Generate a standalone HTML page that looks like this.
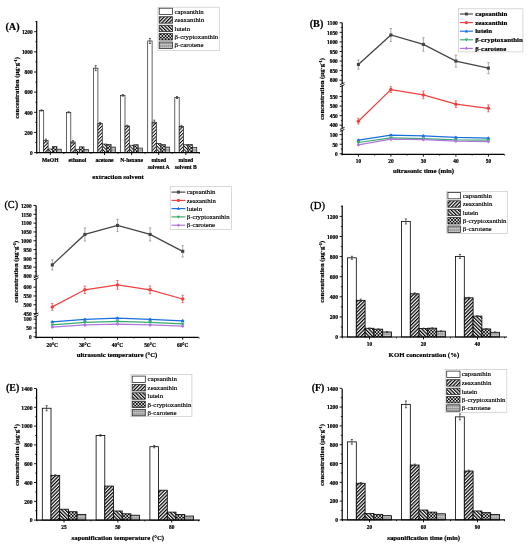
<!DOCTYPE html>
<html><head><meta charset="utf-8"><title>Figure</title>
<style>
html,body{margin:0;padding:0;background:#fff;width:531px;height:550px;overflow:hidden}
svg{display:block;will-change:transform}
text{font-family:"Liberation Serif",serif;fill:#000;stroke:#000;stroke-width:0.16px}
text[font-weight=bold]{stroke-width:0.2px}
</style></head><body>
<svg width="531" height="550" viewBox="0 0 531 550">
<defs>
<pattern id="pz" width="2.5" height="2.5" patternUnits="userSpaceOnUse" patternTransform="rotate(45)"><rect width="2.5" height="2.5" fill="#fff"/><rect width="1.25" height="2.5" fill="#000"/></pattern>
<pattern id="pl" width="2.5" height="2.5" patternUnits="userSpaceOnUse" patternTransform="rotate(-45)"><rect width="2.5" height="2.5" fill="#fff"/><rect width="1.25" height="2.5" fill="#000"/></pattern>
<pattern id="pzA" width="2.4" height="2.4" patternUnits="userSpaceOnUse" patternTransform="rotate(45)"><rect width="2.4" height="2.4" fill="#fff"/><rect width="0.95" height="2.4" fill="#000"/></pattern>
<pattern id="plA" width="2.4" height="2.4" patternUnits="userSpaceOnUse" patternTransform="rotate(-45)"><rect width="2.4" height="2.4" fill="#fff"/><rect width="0.95" height="2.4" fill="#000"/></pattern>
<pattern id="pc" width="3.2" height="3.2" patternUnits="userSpaceOnUse"><rect width="3.2" height="3.2" fill="#000"/><rect x="0.05" y="0.05" width="1.5" height="1.5" fill="#fff"/><rect x="1.65" y="1.65" width="1.5" height="1.5" fill="#fff"/></pattern>
<pattern id="pb" width="2" height="1.6" patternUnits="userSpaceOnUse"><rect width="2" height="1.6" fill="#d4d4d4"/><rect width="2" height="0.6" fill="#7a7a7a"/><rect width="0.5" height="1.6" fill="#9a9a9a"/></pattern>
</defs>
<rect width="531" height="550" fill="#fff"/>

<text x="5.4" y="30" font-size="10.2" font-weight="bold" text-anchor="start">(A)</text>
<line x1="36.7" y1="21.1" x2="36.7" y2="152.6" stroke="#000" stroke-width="1.2"/>
<line x1="34.1" y1="152.6" x2="36.7" y2="152.6" stroke="#000" stroke-width="0.9"/>
<text x="32.7" y="154.89" font-size="5.4" font-weight="bold" text-anchor="end">0</text>
<line x1="34.1" y1="132.45" x2="36.7" y2="132.45" stroke="#000" stroke-width="0.9"/>
<text x="32.7" y="134.74" font-size="5.4" font-weight="bold" text-anchor="end">200</text>
<line x1="34.1" y1="112.3" x2="36.7" y2="112.3" stroke="#000" stroke-width="0.9"/>
<text x="32.7" y="114.59" font-size="5.4" font-weight="bold" text-anchor="end">400</text>
<line x1="34.1" y1="92.15" x2="36.7" y2="92.15" stroke="#000" stroke-width="0.9"/>
<text x="32.7" y="94.44" font-size="5.4" font-weight="bold" text-anchor="end">600</text>
<line x1="34.1" y1="72" x2="36.7" y2="72" stroke="#000" stroke-width="0.9"/>
<text x="32.7" y="74.29" font-size="5.4" font-weight="bold" text-anchor="end">800</text>
<line x1="34.1" y1="51.85" x2="36.7" y2="51.85" stroke="#000" stroke-width="0.9"/>
<text x="32.7" y="54.14" font-size="5.4" font-weight="bold" text-anchor="end">1000</text>
<line x1="34.1" y1="31.7" x2="36.7" y2="31.7" stroke="#000" stroke-width="0.9"/>
<text x="32.7" y="33.99" font-size="5.4" font-weight="bold" text-anchor="end">1200</text>
<line x1="35.3" y1="142.53" x2="36.7" y2="142.53" stroke="#000" stroke-width="0.8"/>
<line x1="35.3" y1="122.38" x2="36.7" y2="122.38" stroke="#000" stroke-width="0.8"/>
<line x1="35.3" y1="102.22" x2="36.7" y2="102.22" stroke="#000" stroke-width="0.8"/>
<line x1="35.3" y1="82.08" x2="36.7" y2="82.08" stroke="#000" stroke-width="0.8"/>
<line x1="35.3" y1="61.92" x2="36.7" y2="61.92" stroke="#000" stroke-width="0.8"/>
<line x1="35.3" y1="41.78" x2="36.7" y2="41.78" stroke="#000" stroke-width="0.8"/>
<line x1="35.3" y1="21.62" x2="36.7" y2="21.62" stroke="#000" stroke-width="0.8"/>
<rect x="39.3" y="110.49" width="4.4" height="42.11" fill="#fff" stroke="#222" stroke-width="0.7"/>
<line x1="41.5" y1="109.88" x2="41.5" y2="111.09" stroke="#333" stroke-width="0.7"/>
<line x1="40.5" y1="109.88" x2="42.5" y2="109.88" stroke="#333" stroke-width="0.8"/>
<line x1="40.5" y1="111.09" x2="42.5" y2="111.09" stroke="#333" stroke-width="0.8"/>
<rect x="43.7" y="140.51" width="4.4" height="12.09" fill="url(#pzA)" stroke="#222" stroke-width="0.7"/>
<line x1="45.9" y1="139.1" x2="45.9" y2="141.92" stroke="#333" stroke-width="0.7"/>
<line x1="44.9" y1="139.1" x2="46.9" y2="139.1" stroke="#333" stroke-width="0.8"/>
<line x1="44.9" y1="141.92" x2="46.9" y2="141.92" stroke="#333" stroke-width="0.8"/>
<rect x="48.1" y="148.97" width="4.4" height="3.63" fill="url(#plA)" stroke="#222" stroke-width="0.7"/>
<rect x="52.5" y="146.56" width="4.4" height="6.04" fill="url(#pc)" stroke="#222" stroke-width="0.7"/>
<rect x="56.9" y="149.17" width="4.4" height="3.43" fill="url(#pb)" stroke="#222" stroke-width="0.7"/>
<rect x="66.4" y="112.3" width="4.4" height="40.3" fill="#fff" stroke="#222" stroke-width="0.7"/>
<line x1="68.6" y1="111.8" x2="68.6" y2="112.8" stroke="#333" stroke-width="0.7"/>
<line x1="67.6" y1="111.8" x2="69.6" y2="111.8" stroke="#333" stroke-width="0.8"/>
<line x1="67.6" y1="112.8" x2="69.6" y2="112.8" stroke="#333" stroke-width="0.8"/>
<rect x="70.8" y="141.92" width="4.4" height="10.68" fill="url(#pzA)" stroke="#222" stroke-width="0.7"/>
<line x1="73" y1="140.71" x2="73" y2="143.13" stroke="#333" stroke-width="0.7"/>
<line x1="72" y1="140.71" x2="74" y2="140.71" stroke="#333" stroke-width="0.8"/>
<line x1="72" y1="143.13" x2="74" y2="143.13" stroke="#333" stroke-width="0.8"/>
<rect x="75.2" y="149.28" width="4.4" height="3.32" fill="url(#plA)" stroke="#222" stroke-width="0.7"/>
<rect x="79.6" y="146.86" width="4.4" height="5.74" fill="url(#pc)" stroke="#222" stroke-width="0.7"/>
<rect x="84" y="149.38" width="4.4" height="3.22" fill="url(#pb)" stroke="#222" stroke-width="0.7"/>
<rect x="93.5" y="68.17" width="4.4" height="84.43" fill="#fff" stroke="#222" stroke-width="0.7"/>
<line x1="95.7" y1="65.65" x2="95.7" y2="70.69" stroke="#333" stroke-width="0.7"/>
<line x1="94.7" y1="65.65" x2="96.7" y2="65.65" stroke="#333" stroke-width="0.8"/>
<line x1="94.7" y1="70.69" x2="96.7" y2="70.69" stroke="#333" stroke-width="0.8"/>
<rect x="97.9" y="123.38" width="4.4" height="29.22" fill="url(#pzA)" stroke="#222" stroke-width="0.7"/>
<line x1="100.1" y1="122.38" x2="100.1" y2="124.39" stroke="#333" stroke-width="0.7"/>
<line x1="99.1" y1="122.38" x2="101.1" y2="122.38" stroke="#333" stroke-width="0.8"/>
<line x1="99.1" y1="124.39" x2="101.1" y2="124.39" stroke="#333" stroke-width="0.8"/>
<rect x="102.3" y="144.04" width="4.4" height="8.56" fill="url(#plA)" stroke="#222" stroke-width="0.7"/>
<rect x="106.7" y="144.34" width="4.4" height="8.26" fill="url(#pc)" stroke="#222" stroke-width="0.7"/>
<rect x="111.1" y="147.06" width="4.4" height="5.54" fill="url(#pb)" stroke="#222" stroke-width="0.7"/>
<rect x="120.6" y="95.37" width="4.4" height="57.23" fill="#fff" stroke="#222" stroke-width="0.7"/>
<line x1="122.8" y1="94.57" x2="122.8" y2="96.18" stroke="#333" stroke-width="0.7"/>
<line x1="121.8" y1="94.57" x2="123.8" y2="94.57" stroke="#333" stroke-width="0.8"/>
<line x1="121.8" y1="96.18" x2="123.8" y2="96.18" stroke="#333" stroke-width="0.8"/>
<rect x="125" y="126" width="4.4" height="26.6" fill="url(#pzA)" stroke="#222" stroke-width="0.7"/>
<line x1="127.2" y1="125.2" x2="127.2" y2="126.81" stroke="#333" stroke-width="0.7"/>
<line x1="126.2" y1="125.2" x2="128.2" y2="125.2" stroke="#333" stroke-width="0.8"/>
<line x1="126.2" y1="126.81" x2="128.2" y2="126.81" stroke="#333" stroke-width="0.8"/>
<rect x="129.4" y="145.25" width="4.4" height="7.35" fill="url(#plA)" stroke="#222" stroke-width="0.7"/>
<rect x="133.8" y="144.74" width="4.4" height="7.86" fill="url(#pc)" stroke="#222" stroke-width="0.7"/>
<rect x="138.2" y="148.07" width="4.4" height="4.53" fill="url(#pb)" stroke="#222" stroke-width="0.7"/>
<rect x="147.7" y="40.97" width="4.4" height="111.63" fill="#fff" stroke="#222" stroke-width="0.7"/>
<line x1="149.9" y1="38.45" x2="149.9" y2="43.49" stroke="#333" stroke-width="0.7"/>
<line x1="148.9" y1="38.45" x2="150.9" y2="38.45" stroke="#333" stroke-width="0.8"/>
<line x1="148.9" y1="43.49" x2="150.9" y2="43.49" stroke="#333" stroke-width="0.8"/>
<rect x="152.1" y="122.17" width="4.4" height="30.43" fill="url(#pzA)" stroke="#222" stroke-width="0.7"/>
<line x1="154.3" y1="120.16" x2="154.3" y2="124.19" stroke="#333" stroke-width="0.7"/>
<line x1="153.3" y1="120.16" x2="155.3" y2="120.16" stroke="#333" stroke-width="0.8"/>
<line x1="153.3" y1="124.19" x2="155.3" y2="124.19" stroke="#333" stroke-width="0.8"/>
<rect x="156.5" y="143.43" width="4.4" height="9.17" fill="url(#plA)" stroke="#222" stroke-width="0.7"/>
<rect x="160.9" y="144.54" width="4.4" height="8.06" fill="url(#pc)" stroke="#222" stroke-width="0.7"/>
<rect x="165.3" y="147.06" width="4.4" height="5.54" fill="url(#pb)" stroke="#222" stroke-width="0.7"/>
<rect x="174.8" y="97.49" width="4.4" height="55.11" fill="#fff" stroke="#222" stroke-width="0.7"/>
<line x1="177" y1="96.48" x2="177" y2="98.5" stroke="#333" stroke-width="0.7"/>
<line x1="176" y1="96.48" x2="178" y2="96.48" stroke="#333" stroke-width="0.8"/>
<line x1="176" y1="98.5" x2="178" y2="98.5" stroke="#333" stroke-width="0.8"/>
<rect x="179.2" y="126.41" width="4.4" height="26.19" fill="url(#pzA)" stroke="#222" stroke-width="0.7"/>
<line x1="181.4" y1="125.4" x2="181.4" y2="127.41" stroke="#333" stroke-width="0.7"/>
<line x1="180.4" y1="125.4" x2="182.4" y2="125.4" stroke="#333" stroke-width="0.8"/>
<line x1="180.4" y1="127.41" x2="182.4" y2="127.41" stroke="#333" stroke-width="0.8"/>
<rect x="183.6" y="144.74" width="4.4" height="7.86" fill="url(#plA)" stroke="#222" stroke-width="0.7"/>
<rect x="188" y="144.54" width="4.4" height="8.06" fill="url(#pc)" stroke="#222" stroke-width="0.7"/>
<rect x="192.4" y="147.56" width="4.4" height="5.04" fill="url(#pb)" stroke="#222" stroke-width="0.7"/>
<line x1="36.1" y1="152.6" x2="199.8" y2="152.6" stroke="#000" stroke-width="1.2"/>
<line x1="50.3" y1="152.6" x2="50.3" y2="155" stroke="#000" stroke-width="0.9"/>
<line x1="77.4" y1="152.6" x2="77.4" y2="155" stroke="#000" stroke-width="0.9"/>
<line x1="104.5" y1="152.6" x2="104.5" y2="155" stroke="#000" stroke-width="0.9"/>
<line x1="131.6" y1="152.6" x2="131.6" y2="155" stroke="#000" stroke-width="0.9"/>
<line x1="158.7" y1="152.6" x2="158.7" y2="155" stroke="#000" stroke-width="0.9"/>
<line x1="185.8" y1="152.6" x2="185.8" y2="155" stroke="#000" stroke-width="0.9"/>
<line x1="63.85" y1="152.6" x2="63.85" y2="153.9" stroke="#000" stroke-width="0.8"/>
<line x1="90.95" y1="152.6" x2="90.95" y2="153.9" stroke="#000" stroke-width="0.8"/>
<line x1="118.05" y1="152.6" x2="118.05" y2="153.9" stroke="#000" stroke-width="0.8"/>
<line x1="145.15" y1="152.6" x2="145.15" y2="153.9" stroke="#000" stroke-width="0.8"/>
<line x1="172.25" y1="152.6" x2="172.25" y2="153.9" stroke="#000" stroke-width="0.8"/>
<line x1="199.35" y1="152.6" x2="199.35" y2="153.9" stroke="#000" stroke-width="0.8"/>
<line x1="36.75" y1="152.6" x2="36.75" y2="153.9" stroke="#000" stroke-width="0.8"/>
<text x="50.3" y="162.2" font-size="5.6" font-weight="bold" text-anchor="middle">MeOH</text>
<text x="77.4" y="162.2" font-size="5.6" font-weight="bold" text-anchor="middle">ethanol</text>
<text x="104.5" y="162.2" font-size="5.6" font-weight="bold" text-anchor="middle">acetone</text>
<text x="131.6" y="162.2" font-size="5.6" font-weight="bold" text-anchor="middle">N-hexane</text>
<text x="158.7" y="162.2" font-size="5.6" font-weight="bold" text-anchor="middle">mixed</text>
<text x="158.7" y="169.4" font-size="5.6" font-weight="bold" text-anchor="middle">solvent A</text>
<text x="185.8" y="162.2" font-size="5.6" font-weight="bold" text-anchor="middle">mixed</text>
<text x="185.8" y="169.4" font-size="5.6" font-weight="bold" text-anchor="middle">solvent B</text>
<text x="118" y="179.2" font-size="6.8" font-weight="bold" text-anchor="middle">extraction solvent</text>
<text transform="translate(18.8,87.9) rotate(-90)" font-size="6.7" font-weight="bold" text-anchor="middle">concentration (&#956;g&#183;g<tspan dy="-2.0" font-size="4.36">-1</tspan><tspan dy="2.0">)</tspan></text>
<rect x="157.9" y="7.2" width="61.4" height="43.3" fill="#fff" stroke="#c8c8c8" stroke-width="0.7"/>
<rect x="159.2" y="8.2" width="13.3" height="6.4" fill="#fff" stroke="#222" stroke-width="0.75"/>
<text x="174.5" y="13.59" font-size="6.85" text-anchor="start">capsanthin</text>
<rect x="159.2" y="16.75" width="13.3" height="6.4" fill="url(#pz)" stroke="#222" stroke-width="0.75"/>
<text x="174.5" y="22.14" font-size="6.85" text-anchor="start">zeaxanthin</text>
<rect x="159.2" y="25.25" width="13.3" height="6.4" fill="url(#pl)" stroke="#222" stroke-width="0.75"/>
<text x="174.5" y="30.64" font-size="6.85" text-anchor="start">lutein</text>
<rect x="159.2" y="33.6" width="13.3" height="6.4" fill="url(#pc)" stroke="#222" stroke-width="0.75"/>
<text x="174.5" y="38.99" font-size="6.85" text-anchor="start">&#946;-cryptoxanthin</text>
<rect x="159.2" y="42" width="13.3" height="6.4" fill="url(#pb)" stroke="#222" stroke-width="0.75"/>
<text x="174.5" y="47.39" font-size="6.85" text-anchor="start">&#946;-carotene</text>
<text x="309.7" y="26.9" font-size="10.2" font-weight="bold" text-anchor="start">(B)</text>
<line x1="342.2" y1="22.75" x2="342.2" y2="154.3" stroke="#000" stroke-width="1.2"/>
<line x1="339.6" y1="153.8" x2="342.2" y2="153.8" stroke="#000" stroke-width="0.9"/>
<text x="337.8" y="156.09" font-size="5.4" font-weight="bold" text-anchor="end">0</text>
<line x1="339.6" y1="144.23" x2="342.2" y2="144.23" stroke="#000" stroke-width="0.9"/>
<text x="337.8" y="146.51" font-size="5.4" font-weight="bold" text-anchor="end">50</text>
<line x1="339.6" y1="134.65" x2="342.2" y2="134.65" stroke="#000" stroke-width="0.9"/>
<text x="337.8" y="136.94" font-size="5.4" font-weight="bold" text-anchor="end">100</text>
<line x1="339.6" y1="125.2" x2="342.2" y2="125.2" stroke="#000" stroke-width="0.9"/>
<text x="337.8" y="127.49" font-size="5.4" font-weight="bold" text-anchor="end">400</text>
<line x1="339.6" y1="115.62" x2="342.2" y2="115.62" stroke="#000" stroke-width="0.9"/>
<text x="337.8" y="117.91" font-size="5.4" font-weight="bold" text-anchor="end">450</text>
<line x1="339.6" y1="106.05" x2="342.2" y2="106.05" stroke="#000" stroke-width="0.9"/>
<text x="337.8" y="108.34" font-size="5.4" font-weight="bold" text-anchor="end">500</text>
<line x1="339.6" y1="96.47" x2="342.2" y2="96.47" stroke="#000" stroke-width="0.9"/>
<text x="337.8" y="98.76" font-size="5.4" font-weight="bold" text-anchor="end">550</text>
<line x1="339.6" y1="80.2" x2="342.2" y2="80.2" stroke="#000" stroke-width="0.9"/>
<text x="337.8" y="82.49" font-size="5.4" font-weight="bold" text-anchor="end">800</text>
<line x1="339.6" y1="70.62" x2="342.2" y2="70.62" stroke="#000" stroke-width="0.9"/>
<text x="337.8" y="72.91" font-size="5.4" font-weight="bold" text-anchor="end">850</text>
<line x1="339.6" y1="61.05" x2="342.2" y2="61.05" stroke="#000" stroke-width="0.9"/>
<text x="337.8" y="63.34" font-size="5.4" font-weight="bold" text-anchor="end">900</text>
<line x1="339.6" y1="51.48" x2="342.2" y2="51.48" stroke="#000" stroke-width="0.9"/>
<text x="337.8" y="53.76" font-size="5.4" font-weight="bold" text-anchor="end">950</text>
<line x1="339.6" y1="41.9" x2="342.2" y2="41.9" stroke="#000" stroke-width="0.9"/>
<text x="337.8" y="44.19" font-size="5.4" font-weight="bold" text-anchor="end">1000</text>
<line x1="339.6" y1="32.33" x2="342.2" y2="32.33" stroke="#000" stroke-width="0.9"/>
<text x="337.8" y="34.61" font-size="5.4" font-weight="bold" text-anchor="end">1050</text>
<line x1="339.6" y1="22.75" x2="342.2" y2="22.75" stroke="#000" stroke-width="0.9"/>
<text x="337.8" y="25.04" font-size="5.4" font-weight="bold" text-anchor="end">1100</text>
<line x1="340.8" y1="149.01" x2="342.2" y2="149.01" stroke="#000" stroke-width="0.8"/>
<line x1="340.8" y1="139.44" x2="342.2" y2="139.44" stroke="#000" stroke-width="0.8"/>
<line x1="340.8" y1="129.86" x2="342.2" y2="129.86" stroke="#000" stroke-width="0.8"/>
<line x1="340.8" y1="120.41" x2="342.2" y2="120.41" stroke="#000" stroke-width="0.8"/>
<line x1="340.8" y1="110.84" x2="342.2" y2="110.84" stroke="#000" stroke-width="0.8"/>
<line x1="340.8" y1="101.26" x2="342.2" y2="101.26" stroke="#000" stroke-width="0.8"/>
<line x1="340.8" y1="91.69" x2="342.2" y2="91.69" stroke="#000" stroke-width="0.8"/>
<line x1="340.8" y1="75.41" x2="342.2" y2="75.41" stroke="#000" stroke-width="0.8"/>
<line x1="340.8" y1="65.84" x2="342.2" y2="65.84" stroke="#000" stroke-width="0.8"/>
<line x1="340.8" y1="56.26" x2="342.2" y2="56.26" stroke="#000" stroke-width="0.8"/>
<line x1="340.8" y1="46.69" x2="342.2" y2="46.69" stroke="#000" stroke-width="0.8"/>
<line x1="340.8" y1="37.11" x2="342.2" y2="37.11" stroke="#000" stroke-width="0.8"/>
<line x1="340.8" y1="27.54" x2="342.2" y2="27.54" stroke="#000" stroke-width="0.8"/>
<rect x="341.2" y="83.7" width="2" height="2.0" fill="#fff"/>
<line x1="339.9" y1="84.7" x2="344.5" y2="82.7" stroke="#000" stroke-width="0.9"/>
<line x1="339.9" y1="86.7" x2="344.5" y2="84.7" stroke="#000" stroke-width="0.9"/>
<rect x="341.2" y="128.4" width="2" height="2.0" fill="#fff"/>
<line x1="339.9" y1="129.4" x2="344.5" y2="127.4" stroke="#000" stroke-width="0.9"/>
<line x1="339.9" y1="131.4" x2="344.5" y2="129.4" stroke="#000" stroke-width="0.9"/>
<line x1="341.6" y1="154.3" x2="504.3" y2="154.3" stroke="#000" stroke-width="1.2"/>
<line x1="358.4" y1="154.3" x2="358.4" y2="156.7" stroke="#000" stroke-width="0.9"/>
<text x="358.4" y="162.8" font-size="5.4" font-weight="bold" text-anchor="middle">10</text>
<line x1="390.9" y1="154.3" x2="390.9" y2="156.7" stroke="#000" stroke-width="0.9"/>
<text x="390.9" y="162.8" font-size="5.4" font-weight="bold" text-anchor="middle">20</text>
<line x1="423.4" y1="154.3" x2="423.4" y2="156.7" stroke="#000" stroke-width="0.9"/>
<text x="423.4" y="162.8" font-size="5.4" font-weight="bold" text-anchor="middle">30</text>
<line x1="455.9" y1="154.3" x2="455.9" y2="156.7" stroke="#000" stroke-width="0.9"/>
<text x="455.9" y="162.8" font-size="5.4" font-weight="bold" text-anchor="middle">40</text>
<line x1="488.4" y1="154.3" x2="488.4" y2="156.7" stroke="#000" stroke-width="0.9"/>
<text x="488.4" y="162.8" font-size="5.4" font-weight="bold" text-anchor="middle">50</text>
<line x1="374.65" y1="154.3" x2="374.65" y2="155.6" stroke="#000" stroke-width="0.8"/>
<line x1="407.15" y1="154.3" x2="407.15" y2="155.6" stroke="#000" stroke-width="0.8"/>
<line x1="439.65" y1="154.3" x2="439.65" y2="155.6" stroke="#000" stroke-width="0.8"/>
<line x1="472.15" y1="154.3" x2="472.15" y2="155.6" stroke="#000" stroke-width="0.8"/>
<line x1="504.65" y1="154.3" x2="504.65" y2="155.6" stroke="#000" stroke-width="0.8"/>
<line x1="342.15" y1="154.3" x2="342.15" y2="155.6" stroke="#000" stroke-width="0.8"/>
<text x="423.5" y="173.3" font-size="6.8" font-weight="bold" text-anchor="middle">ultrasonic time (min)</text>
<text transform="translate(323.9,89) rotate(-90)" font-size="6.7" font-weight="bold" text-anchor="middle">concentration (&#956;g&#183;g<tspan dy="-2.0" font-size="4.36">-1</tspan><tspan dy="2.0">)</tspan></text>
<line x1="358.4" y1="59.9" x2="358.4" y2="69.09" stroke="#8a8a8a" stroke-width="0.7"/>
<line x1="357.2" y1="59.9" x2="359.6" y2="59.9" stroke="#8a8a8a" stroke-width="0.7"/>
<line x1="357.2" y1="69.09" x2="359.6" y2="69.09" stroke="#8a8a8a" stroke-width="0.7"/>
<line x1="390.9" y1="28.5" x2="390.9" y2="41.52" stroke="#8a8a8a" stroke-width="0.7"/>
<line x1="389.7" y1="28.5" x2="392.1" y2="28.5" stroke="#8a8a8a" stroke-width="0.7"/>
<line x1="389.7" y1="41.52" x2="392.1" y2="41.52" stroke="#8a8a8a" stroke-width="0.7"/>
<line x1="423.4" y1="37.69" x2="423.4" y2="51.09" stroke="#8a8a8a" stroke-width="0.7"/>
<line x1="422.2" y1="37.69" x2="424.6" y2="37.69" stroke="#8a8a8a" stroke-width="0.7"/>
<line x1="422.2" y1="51.09" x2="424.6" y2="51.09" stroke="#8a8a8a" stroke-width="0.7"/>
<line x1="455.9" y1="55.11" x2="455.9" y2="66.99" stroke="#8a8a8a" stroke-width="0.7"/>
<line x1="454.7" y1="55.11" x2="457.1" y2="55.11" stroke="#8a8a8a" stroke-width="0.7"/>
<line x1="454.7" y1="66.99" x2="457.1" y2="66.99" stroke="#8a8a8a" stroke-width="0.7"/>
<line x1="488.4" y1="62.58" x2="488.4" y2="73.69" stroke="#8a8a8a" stroke-width="0.7"/>
<line x1="487.2" y1="62.58" x2="489.6" y2="62.58" stroke="#8a8a8a" stroke-width="0.7"/>
<line x1="487.2" y1="73.69" x2="489.6" y2="73.69" stroke="#8a8a8a" stroke-width="0.7"/>
<polyline points="358.4,64.5 390.9,35.01 423.4,44.39 455.9,61.05 488.4,68.14" fill="none" stroke="#444444" stroke-width="1.25"/>
<rect x="356.85" y="62.95" width="3.1" height="3.1" fill="#444444"/>
<rect x="389.35" y="33.46" width="3.1" height="3.1" fill="#444444"/>
<rect x="421.85" y="42.84" width="3.1" height="3.1" fill="#444444"/>
<rect x="454.35" y="59.5" width="3.1" height="3.1" fill="#444444"/>
<rect x="486.85" y="66.59" width="3.1" height="3.1" fill="#444444"/>
<line x1="358.4" y1="118.31" x2="358.4" y2="124.05" stroke="#F14040" stroke-width="0.7"/>
<line x1="357.2" y1="118.31" x2="359.6" y2="118.31" stroke="#F14040" stroke-width="0.7"/>
<line x1="357.2" y1="124.05" x2="359.6" y2="124.05" stroke="#F14040" stroke-width="0.7"/>
<line x1="390.9" y1="86.71" x2="390.9" y2="92.45" stroke="#F14040" stroke-width="0.7"/>
<line x1="389.7" y1="86.71" x2="392.1" y2="86.71" stroke="#F14040" stroke-width="0.7"/>
<line x1="389.7" y1="92.45" x2="392.1" y2="92.45" stroke="#F14040" stroke-width="0.7"/>
<line x1="423.4" y1="91.11" x2="423.4" y2="98.77" stroke="#F14040" stroke-width="0.7"/>
<line x1="422.2" y1="91.11" x2="424.6" y2="91.11" stroke="#F14040" stroke-width="0.7"/>
<line x1="422.2" y1="98.77" x2="424.6" y2="98.77" stroke="#F14040" stroke-width="0.7"/>
<line x1="455.9" y1="100.88" x2="455.9" y2="107.39" stroke="#F14040" stroke-width="0.7"/>
<line x1="454.7" y1="100.88" x2="457.1" y2="100.88" stroke="#F14040" stroke-width="0.7"/>
<line x1="454.7" y1="107.39" x2="457.1" y2="107.39" stroke="#F14040" stroke-width="0.7"/>
<line x1="488.4" y1="104.9" x2="488.4" y2="111.8" stroke="#F14040" stroke-width="0.7"/>
<line x1="487.2" y1="104.9" x2="489.6" y2="104.9" stroke="#F14040" stroke-width="0.7"/>
<line x1="487.2" y1="111.8" x2="489.6" y2="111.8" stroke="#F14040" stroke-width="0.7"/>
<polyline points="358.4,121.18 390.9,89.58 423.4,94.94 455.9,104.14 488.4,108.35" fill="none" stroke="#F14040" stroke-width="1.25"/>
<circle cx="358.4" cy="121.18" r="1.75" fill="#F14040"/>
<circle cx="390.9" cy="89.58" r="1.75" fill="#F14040"/>
<circle cx="423.4" cy="94.94" r="1.75" fill="#F14040"/>
<circle cx="455.9" cy="104.14" r="1.75" fill="#F14040"/>
<circle cx="488.4" cy="108.35" r="1.75" fill="#F14040"/>
<line x1="358.4" y1="139.63" x2="358.4" y2="140.78" stroke="#1A6FDF" stroke-width="0.7"/>
<line x1="357.2" y1="139.63" x2="359.6" y2="139.63" stroke="#1A6FDF" stroke-width="0.7"/>
<line x1="357.2" y1="140.78" x2="359.6" y2="140.78" stroke="#1A6FDF" stroke-width="0.7"/>
<line x1="390.9" y1="134.46" x2="390.9" y2="135.61" stroke="#1A6FDF" stroke-width="0.7"/>
<line x1="389.7" y1="134.46" x2="392.1" y2="134.46" stroke="#1A6FDF" stroke-width="0.7"/>
<line x1="389.7" y1="135.61" x2="392.1" y2="135.61" stroke="#1A6FDF" stroke-width="0.7"/>
<line x1="423.4" y1="135.22" x2="423.4" y2="136.37" stroke="#1A6FDF" stroke-width="0.7"/>
<line x1="422.2" y1="135.22" x2="424.6" y2="135.22" stroke="#1A6FDF" stroke-width="0.7"/>
<line x1="422.2" y1="136.37" x2="424.6" y2="136.37" stroke="#1A6FDF" stroke-width="0.7"/>
<line x1="455.9" y1="136.76" x2="455.9" y2="137.91" stroke="#1A6FDF" stroke-width="0.7"/>
<line x1="454.7" y1="136.76" x2="457.1" y2="136.76" stroke="#1A6FDF" stroke-width="0.7"/>
<line x1="454.7" y1="137.91" x2="457.1" y2="137.91" stroke="#1A6FDF" stroke-width="0.7"/>
<line x1="488.4" y1="137.52" x2="488.4" y2="138.67" stroke="#1A6FDF" stroke-width="0.7"/>
<line x1="487.2" y1="137.52" x2="489.6" y2="137.52" stroke="#1A6FDF" stroke-width="0.7"/>
<line x1="487.2" y1="138.67" x2="489.6" y2="138.67" stroke="#1A6FDF" stroke-width="0.7"/>
<polyline points="358.4,140.2 390.9,135.03 423.4,135.8 455.9,137.33 488.4,138.1" fill="none" stroke="#1A6FDF" stroke-width="1.25"/>
<path d="M358.4 138.3L360.2 141.5L356.6 141.5Z" fill="#1A6FDF"/>
<path d="M390.9 133.13L392.7 136.33L389.1 136.33Z" fill="#1A6FDF"/>
<path d="M423.4 133.9L425.2 137.1L421.6 137.1Z" fill="#1A6FDF"/>
<path d="M455.9 135.43L457.7 138.63L454.1 138.63Z" fill="#1A6FDF"/>
<path d="M488.4 136.2L490.2 139.4L486.6 139.4Z" fill="#1A6FDF"/>
<line x1="358.4" y1="142.12" x2="358.4" y2="142.88" stroke="#37AD6B" stroke-width="0.7"/>
<line x1="357.2" y1="142.12" x2="359.6" y2="142.12" stroke="#37AD6B" stroke-width="0.7"/>
<line x1="357.2" y1="142.88" x2="359.6" y2="142.88" stroke="#37AD6B" stroke-width="0.7"/>
<line x1="390.9" y1="137.52" x2="390.9" y2="138.29" stroke="#37AD6B" stroke-width="0.7"/>
<line x1="389.7" y1="137.52" x2="392.1" y2="137.52" stroke="#37AD6B" stroke-width="0.7"/>
<line x1="389.7" y1="138.29" x2="392.1" y2="138.29" stroke="#37AD6B" stroke-width="0.7"/>
<line x1="423.4" y1="138.29" x2="423.4" y2="139.05" stroke="#37AD6B" stroke-width="0.7"/>
<line x1="422.2" y1="138.29" x2="424.6" y2="138.29" stroke="#37AD6B" stroke-width="0.7"/>
<line x1="422.2" y1="139.05" x2="424.6" y2="139.05" stroke="#37AD6B" stroke-width="0.7"/>
<line x1="455.9" y1="139.44" x2="455.9" y2="140.2" stroke="#37AD6B" stroke-width="0.7"/>
<line x1="454.7" y1="139.44" x2="457.1" y2="139.44" stroke="#37AD6B" stroke-width="0.7"/>
<line x1="454.7" y1="140.2" x2="457.1" y2="140.2" stroke="#37AD6B" stroke-width="0.7"/>
<line x1="488.4" y1="139.63" x2="488.4" y2="140.4" stroke="#37AD6B" stroke-width="0.7"/>
<line x1="487.2" y1="139.63" x2="489.6" y2="139.63" stroke="#37AD6B" stroke-width="0.7"/>
<line x1="487.2" y1="140.4" x2="489.6" y2="140.4" stroke="#37AD6B" stroke-width="0.7"/>
<polyline points="358.4,142.5 390.9,137.91 423.4,138.67 455.9,139.82 488.4,140.01" fill="none" stroke="#37AD6B" stroke-width="1.25"/>
<path d="M358.4 144.4L360.2 141.2L356.6 141.2Z" fill="#37AD6B"/>
<path d="M390.9 139.81L392.7 136.61L389.1 136.61Z" fill="#37AD6B"/>
<path d="M423.4 140.57L425.2 137.37L421.6 137.37Z" fill="#37AD6B"/>
<path d="M455.9 141.72L457.7 138.52L454.1 138.52Z" fill="#37AD6B"/>
<path d="M488.4 141.91L490.2 138.71L486.6 138.71Z" fill="#37AD6B"/>
<line x1="358.4" y1="144.42" x2="358.4" y2="145.18" stroke="#B177DE" stroke-width="0.7"/>
<line x1="357.2" y1="144.42" x2="359.6" y2="144.42" stroke="#B177DE" stroke-width="0.7"/>
<line x1="357.2" y1="145.18" x2="359.6" y2="145.18" stroke="#B177DE" stroke-width="0.7"/>
<line x1="390.9" y1="138.86" x2="390.9" y2="139.63" stroke="#B177DE" stroke-width="0.7"/>
<line x1="389.7" y1="138.86" x2="392.1" y2="138.86" stroke="#B177DE" stroke-width="0.7"/>
<line x1="389.7" y1="139.63" x2="392.1" y2="139.63" stroke="#B177DE" stroke-width="0.7"/>
<line x1="423.4" y1="139.25" x2="423.4" y2="140.01" stroke="#B177DE" stroke-width="0.7"/>
<line x1="422.2" y1="139.25" x2="424.6" y2="139.25" stroke="#B177DE" stroke-width="0.7"/>
<line x1="422.2" y1="140.01" x2="424.6" y2="140.01" stroke="#B177DE" stroke-width="0.7"/>
<line x1="455.9" y1="140.78" x2="455.9" y2="141.54" stroke="#B177DE" stroke-width="0.7"/>
<line x1="454.7" y1="140.78" x2="457.1" y2="140.78" stroke="#B177DE" stroke-width="0.7"/>
<line x1="454.7" y1="141.54" x2="457.1" y2="141.54" stroke="#B177DE" stroke-width="0.7"/>
<line x1="488.4" y1="141.16" x2="488.4" y2="141.93" stroke="#B177DE" stroke-width="0.7"/>
<line x1="487.2" y1="141.16" x2="489.6" y2="141.16" stroke="#B177DE" stroke-width="0.7"/>
<line x1="487.2" y1="141.93" x2="489.6" y2="141.93" stroke="#B177DE" stroke-width="0.7"/>
<polyline points="358.4,144.8 390.9,139.25 423.4,139.63 455.9,141.16 488.4,141.54" fill="none" stroke="#B177DE" stroke-width="1.25"/>
<path d="M358.4 142.9L360.1 144.8L358.4 146.7L356.7 144.8Z" fill="#B177DE"/>
<path d="M390.9 137.35L392.6 139.25L390.9 141.15L389.2 139.25Z" fill="#B177DE"/>
<path d="M423.4 137.73L425.1 139.63L423.4 141.53L421.7 139.63Z" fill="#B177DE"/>
<path d="M455.9 139.26L457.6 141.16L455.9 143.06L454.2 141.16Z" fill="#B177DE"/>
<path d="M488.4 139.64L490.1 141.54L488.4 143.44L486.7 141.54Z" fill="#B177DE"/>
<rect x="458.4" y="8.8" width="64.5" height="43.1" fill="#fff" stroke="#c8c8c8" stroke-width="0.7"/>
<line x1="459.9" y1="14" x2="472.9" y2="14" stroke="#444444" stroke-width="1.15"/>
<rect x="464.93" y="12.53" width="2.94" height="2.94" fill="#444444"/>
<text x="475.2" y="16.21" font-size="6.9" font-weight="bold" text-anchor="start">capsanthin</text>
<line x1="459.9" y1="22.6" x2="472.9" y2="22.6" stroke="#F14040" stroke-width="1.15"/>
<circle cx="466.4" cy="22.6" r="1.66" fill="#F14040"/>
<text x="475.2" y="24.81" font-size="6.9" font-weight="bold" text-anchor="start">zeaxanthin</text>
<line x1="459.9" y1="31.2" x2="472.9" y2="31.2" stroke="#1A6FDF" stroke-width="1.15"/>
<path d="M466.4 29.39L468.11 32.44L464.69 32.44Z" fill="#1A6FDF"/>
<text x="475.2" y="33.41" font-size="6.9" font-weight="bold" text-anchor="start">lutein</text>
<line x1="459.9" y1="39.8" x2="472.9" y2="39.8" stroke="#37AD6B" stroke-width="1.15"/>
<path d="M466.4 41.6L468.11 38.56L464.69 38.56Z" fill="#37AD6B"/>
<text x="475.2" y="42.01" font-size="6.9" font-weight="bold" text-anchor="start">&#946;-cryptoxanthin</text>
<line x1="459.9" y1="48.4" x2="472.9" y2="48.4" stroke="#B177DE" stroke-width="1.15"/>
<path d="M466.4 46.59L468.01 48.4L466.4 50.2L464.78 48.4Z" fill="#B177DE"/>
<text x="475.2" y="50.61" font-size="6.9" font-weight="bold" text-anchor="start">&#946;-carotene</text>
<text x="4.4" y="208.4" font-size="10.3" text-anchor="start" style="stroke-width:0.3px">(C)</text>
<line x1="36.1" y1="205.52" x2="36.1" y2="337.3" stroke="#000" stroke-width="1.2"/>
<line x1="33.5" y1="336.8" x2="36.1" y2="336.8" stroke="#000" stroke-width="0.9"/>
<text x="31.7" y="339.09" font-size="5.4" font-weight="bold" text-anchor="end">0</text>
<line x1="33.5" y1="327.99" x2="36.1" y2="327.99" stroke="#000" stroke-width="0.9"/>
<text x="31.7" y="330.28" font-size="5.4" font-weight="bold" text-anchor="end">50</text>
<line x1="33.5" y1="319.18" x2="36.1" y2="319.18" stroke="#000" stroke-width="0.9"/>
<text x="31.7" y="321.47" font-size="5.4" font-weight="bold" text-anchor="end">100</text>
<line x1="33.5" y1="313.6" x2="36.1" y2="313.6" stroke="#000" stroke-width="0.9"/>
<text x="31.7" y="315.89" font-size="5.4" font-weight="bold" text-anchor="end">450</text>
<line x1="33.5" y1="304.79" x2="36.1" y2="304.79" stroke="#000" stroke-width="0.9"/>
<text x="31.7" y="307.08" font-size="5.4" font-weight="bold" text-anchor="end">500</text>
<line x1="33.5" y1="295.98" x2="36.1" y2="295.98" stroke="#000" stroke-width="0.9"/>
<text x="31.7" y="298.27" font-size="5.4" font-weight="bold" text-anchor="end">550</text>
<line x1="33.5" y1="287.17" x2="36.1" y2="287.17" stroke="#000" stroke-width="0.9"/>
<text x="31.7" y="289.46" font-size="5.4" font-weight="bold" text-anchor="end">600</text>
<line x1="33.5" y1="276" x2="36.1" y2="276" stroke="#000" stroke-width="0.9"/>
<text x="31.7" y="278.29" font-size="5.4" font-weight="bold" text-anchor="end">800</text>
<line x1="33.5" y1="267.19" x2="36.1" y2="267.19" stroke="#000" stroke-width="0.9"/>
<text x="31.7" y="269.48" font-size="5.4" font-weight="bold" text-anchor="end">850</text>
<line x1="33.5" y1="258.38" x2="36.1" y2="258.38" stroke="#000" stroke-width="0.9"/>
<text x="31.7" y="260.67" font-size="5.4" font-weight="bold" text-anchor="end">900</text>
<line x1="33.5" y1="249.57" x2="36.1" y2="249.57" stroke="#000" stroke-width="0.9"/>
<text x="31.7" y="251.86" font-size="5.4" font-weight="bold" text-anchor="end">950</text>
<line x1="33.5" y1="240.76" x2="36.1" y2="240.76" stroke="#000" stroke-width="0.9"/>
<text x="31.7" y="243.05" font-size="5.4" font-weight="bold" text-anchor="end">1000</text>
<line x1="33.5" y1="231.95" x2="36.1" y2="231.95" stroke="#000" stroke-width="0.9"/>
<text x="31.7" y="234.24" font-size="5.4" font-weight="bold" text-anchor="end">1050</text>
<line x1="33.5" y1="223.14" x2="36.1" y2="223.14" stroke="#000" stroke-width="0.9"/>
<text x="31.7" y="225.43" font-size="5.4" font-weight="bold" text-anchor="end">1100</text>
<line x1="33.5" y1="214.33" x2="36.1" y2="214.33" stroke="#000" stroke-width="0.9"/>
<text x="31.7" y="216.62" font-size="5.4" font-weight="bold" text-anchor="end">1150</text>
<line x1="33.5" y1="205.52" x2="36.1" y2="205.52" stroke="#000" stroke-width="0.9"/>
<text x="31.7" y="207.81" font-size="5.4" font-weight="bold" text-anchor="end">1200</text>
<line x1="34.7" y1="332.4" x2="36.1" y2="332.4" stroke="#000" stroke-width="0.8"/>
<line x1="34.7" y1="323.59" x2="36.1" y2="323.59" stroke="#000" stroke-width="0.8"/>
<line x1="34.7" y1="309.2" x2="36.1" y2="309.2" stroke="#000" stroke-width="0.8"/>
<line x1="34.7" y1="300.39" x2="36.1" y2="300.39" stroke="#000" stroke-width="0.8"/>
<line x1="34.7" y1="291.58" x2="36.1" y2="291.58" stroke="#000" stroke-width="0.8"/>
<line x1="34.7" y1="271.6" x2="36.1" y2="271.6" stroke="#000" stroke-width="0.8"/>
<line x1="34.7" y1="262.79" x2="36.1" y2="262.79" stroke="#000" stroke-width="0.8"/>
<line x1="34.7" y1="253.97" x2="36.1" y2="253.97" stroke="#000" stroke-width="0.8"/>
<line x1="34.7" y1="245.16" x2="36.1" y2="245.16" stroke="#000" stroke-width="0.8"/>
<line x1="34.7" y1="236.36" x2="36.1" y2="236.36" stroke="#000" stroke-width="0.8"/>
<line x1="34.7" y1="227.55" x2="36.1" y2="227.55" stroke="#000" stroke-width="0.8"/>
<line x1="34.7" y1="218.74" x2="36.1" y2="218.74" stroke="#000" stroke-width="0.8"/>
<line x1="34.7" y1="209.93" x2="36.1" y2="209.93" stroke="#000" stroke-width="0.8"/>
<rect x="35.1" y="276.8" width="2" height="2.0" fill="#fff"/>
<line x1="33.8" y1="277.8" x2="38.4" y2="275.8" stroke="#000" stroke-width="0.9"/>
<line x1="33.8" y1="279.8" x2="38.4" y2="277.8" stroke="#000" stroke-width="0.9"/>
<rect x="35.1" y="314" width="2" height="2.0" fill="#fff"/>
<line x1="33.8" y1="315" x2="38.4" y2="313" stroke="#000" stroke-width="0.9"/>
<line x1="33.8" y1="317" x2="38.4" y2="315" stroke="#000" stroke-width="0.9"/>
<line x1="35.5" y1="337.3" x2="198.6" y2="337.3" stroke="#000" stroke-width="1.2"/>
<line x1="52.3" y1="337.3" x2="52.3" y2="339.7" stroke="#000" stroke-width="0.9"/>
<text x="52.3" y="346.6" font-size="5.4" font-weight="bold" text-anchor="middle">20&#176;C</text>
<line x1="84.9" y1="337.3" x2="84.9" y2="339.7" stroke="#000" stroke-width="0.9"/>
<text x="84.9" y="346.6" font-size="5.4" font-weight="bold" text-anchor="middle">30&#176;C</text>
<line x1="117.5" y1="337.3" x2="117.5" y2="339.7" stroke="#000" stroke-width="0.9"/>
<text x="117.5" y="346.6" font-size="5.4" font-weight="bold" text-anchor="middle">40&#176;C</text>
<line x1="150.1" y1="337.3" x2="150.1" y2="339.7" stroke="#000" stroke-width="0.9"/>
<text x="150.1" y="346.6" font-size="5.4" font-weight="bold" text-anchor="middle">50&#176;C</text>
<line x1="182.7" y1="337.3" x2="182.7" y2="339.7" stroke="#000" stroke-width="0.9"/>
<text x="182.7" y="346.6" font-size="5.4" font-weight="bold" text-anchor="middle">60&#176;C</text>
<line x1="68.6" y1="337.3" x2="68.6" y2="338.6" stroke="#000" stroke-width="0.8"/>
<line x1="101.2" y1="337.3" x2="101.2" y2="338.6" stroke="#000" stroke-width="0.8"/>
<line x1="133.8" y1="337.3" x2="133.8" y2="338.6" stroke="#000" stroke-width="0.8"/>
<line x1="166.4" y1="337.3" x2="166.4" y2="338.6" stroke="#000" stroke-width="0.8"/>
<line x1="199" y1="337.3" x2="199" y2="338.6" stroke="#000" stroke-width="0.8"/>
<line x1="36" y1="337.3" x2="36" y2="338.6" stroke="#000" stroke-width="0.8"/>
<text x="117" y="357.2" font-size="6.8" font-weight="bold" text-anchor="middle">ultrasonic temperature (&#176;C)</text>
<text transform="translate(18.4,271.8) rotate(-90)" font-size="6.7" font-weight="bold" text-anchor="middle">concentration (&#956;g&#183;g<tspan dy="-2.0" font-size="4.36">-1</tspan><tspan dy="2.0">)</tspan></text>
<line x1="52.3" y1="259.79" x2="52.3" y2="270.01" stroke="#8a8a8a" stroke-width="0.7"/>
<line x1="51.1" y1="259.79" x2="53.5" y2="259.79" stroke="#8a8a8a" stroke-width="0.7"/>
<line x1="51.1" y1="270.01" x2="53.5" y2="270.01" stroke="#8a8a8a" stroke-width="0.7"/>
<line x1="84.9" y1="227.9" x2="84.9" y2="240.94" stroke="#8a8a8a" stroke-width="0.7"/>
<line x1="83.7" y1="227.9" x2="86.1" y2="227.9" stroke="#8a8a8a" stroke-width="0.7"/>
<line x1="83.7" y1="240.94" x2="86.1" y2="240.94" stroke="#8a8a8a" stroke-width="0.7"/>
<line x1="117.5" y1="219.26" x2="117.5" y2="231.6" stroke="#8a8a8a" stroke-width="0.7"/>
<line x1="116.3" y1="219.26" x2="118.7" y2="219.26" stroke="#8a8a8a" stroke-width="0.7"/>
<line x1="116.3" y1="231.6" x2="118.7" y2="231.6" stroke="#8a8a8a" stroke-width="0.7"/>
<line x1="150.1" y1="227.9" x2="150.1" y2="240.94" stroke="#8a8a8a" stroke-width="0.7"/>
<line x1="148.9" y1="227.9" x2="151.3" y2="227.9" stroke="#8a8a8a" stroke-width="0.7"/>
<line x1="148.9" y1="240.94" x2="151.3" y2="240.94" stroke="#8a8a8a" stroke-width="0.7"/>
<line x1="182.7" y1="245.69" x2="182.7" y2="256.97" stroke="#8a8a8a" stroke-width="0.7"/>
<line x1="181.5" y1="245.69" x2="183.9" y2="245.69" stroke="#8a8a8a" stroke-width="0.7"/>
<line x1="181.5" y1="256.97" x2="183.9" y2="256.97" stroke="#8a8a8a" stroke-width="0.7"/>
<polyline points="52.3,264.9 84.9,234.42 117.5,225.43 150.1,234.42 182.7,251.33" fill="none" stroke="#444444" stroke-width="1.25"/>
<rect x="50.75" y="263.35" width="3.1" height="3.1" fill="#444444"/>
<rect x="83.35" y="232.87" width="3.1" height="3.1" fill="#444444"/>
<rect x="115.95" y="223.88" width="3.1" height="3.1" fill="#444444"/>
<rect x="148.55" y="232.87" width="3.1" height="3.1" fill="#444444"/>
<rect x="181.15" y="249.78" width="3.1" height="3.1" fill="#444444"/>
<line x1="52.3" y1="303.56" x2="52.3" y2="310.25" stroke="#F14040" stroke-width="0.7"/>
<line x1="51.1" y1="303.56" x2="53.5" y2="303.56" stroke="#F14040" stroke-width="0.7"/>
<line x1="51.1" y1="310.25" x2="53.5" y2="310.25" stroke="#F14040" stroke-width="0.7"/>
<line x1="84.9" y1="286.11" x2="84.9" y2="293.51" stroke="#F14040" stroke-width="0.7"/>
<line x1="83.7" y1="286.11" x2="86.1" y2="286.11" stroke="#F14040" stroke-width="0.7"/>
<line x1="83.7" y1="293.51" x2="86.1" y2="293.51" stroke="#F14040" stroke-width="0.7"/>
<line x1="117.5" y1="280.47" x2="117.5" y2="289.28" stroke="#F14040" stroke-width="0.7"/>
<line x1="116.3" y1="280.47" x2="118.7" y2="280.47" stroke="#F14040" stroke-width="0.7"/>
<line x1="116.3" y1="289.28" x2="118.7" y2="289.28" stroke="#F14040" stroke-width="0.7"/>
<line x1="150.1" y1="285.94" x2="150.1" y2="293.69" stroke="#F14040" stroke-width="0.7"/>
<line x1="148.9" y1="285.94" x2="151.3" y2="285.94" stroke="#F14040" stroke-width="0.7"/>
<line x1="148.9" y1="293.69" x2="151.3" y2="293.69" stroke="#F14040" stroke-width="0.7"/>
<line x1="182.7" y1="295.28" x2="182.7" y2="302.68" stroke="#F14040" stroke-width="0.7"/>
<line x1="181.5" y1="295.28" x2="183.9" y2="295.28" stroke="#F14040" stroke-width="0.7"/>
<line x1="181.5" y1="302.68" x2="183.9" y2="302.68" stroke="#F14040" stroke-width="0.7"/>
<polyline points="52.3,306.9 84.9,289.81 117.5,284.88 150.1,289.81 182.7,298.98" fill="none" stroke="#F14040" stroke-width="1.25"/>
<circle cx="52.3" cy="306.9" r="1.75" fill="#F14040"/>
<circle cx="84.9" cy="289.81" r="1.75" fill="#F14040"/>
<circle cx="117.5" cy="284.88" r="1.75" fill="#F14040"/>
<circle cx="150.1" cy="289.81" r="1.75" fill="#F14040"/>
<circle cx="182.7" cy="298.98" r="1.75" fill="#F14040"/>
<line x1="52.3" y1="321.29" x2="52.3" y2="322.35" stroke="#1A6FDF" stroke-width="0.7"/>
<line x1="51.1" y1="321.29" x2="53.5" y2="321.29" stroke="#1A6FDF" stroke-width="0.7"/>
<line x1="51.1" y1="322.35" x2="53.5" y2="322.35" stroke="#1A6FDF" stroke-width="0.7"/>
<line x1="84.9" y1="318.83" x2="84.9" y2="319.88" stroke="#1A6FDF" stroke-width="0.7"/>
<line x1="83.7" y1="318.83" x2="86.1" y2="318.83" stroke="#1A6FDF" stroke-width="0.7"/>
<line x1="83.7" y1="319.88" x2="86.1" y2="319.88" stroke="#1A6FDF" stroke-width="0.7"/>
<line x1="117.5" y1="317.59" x2="117.5" y2="318.65" stroke="#1A6FDF" stroke-width="0.7"/>
<line x1="116.3" y1="317.59" x2="118.7" y2="317.59" stroke="#1A6FDF" stroke-width="0.7"/>
<line x1="116.3" y1="318.65" x2="118.7" y2="318.65" stroke="#1A6FDF" stroke-width="0.7"/>
<line x1="150.1" y1="318.83" x2="150.1" y2="319.88" stroke="#1A6FDF" stroke-width="0.7"/>
<line x1="148.9" y1="318.83" x2="151.3" y2="318.83" stroke="#1A6FDF" stroke-width="0.7"/>
<line x1="148.9" y1="319.88" x2="151.3" y2="319.88" stroke="#1A6FDF" stroke-width="0.7"/>
<line x1="182.7" y1="320.24" x2="182.7" y2="321.29" stroke="#1A6FDF" stroke-width="0.7"/>
<line x1="181.5" y1="320.24" x2="183.9" y2="320.24" stroke="#1A6FDF" stroke-width="0.7"/>
<line x1="181.5" y1="321.29" x2="183.9" y2="321.29" stroke="#1A6FDF" stroke-width="0.7"/>
<polyline points="52.3,321.82 84.9,319.36 117.5,318.12 150.1,319.36 182.7,320.77" fill="none" stroke="#1A6FDF" stroke-width="1.25"/>
<path d="M52.3 319.92L54.1 323.12L50.5 323.12Z" fill="#1A6FDF"/>
<path d="M84.9 317.46L86.7 320.66L83.1 320.66Z" fill="#1A6FDF"/>
<path d="M117.5 316.22L119.3 319.42L115.7 319.42Z" fill="#1A6FDF"/>
<path d="M150.1 317.46L151.9 320.66L148.3 320.66Z" fill="#1A6FDF"/>
<path d="M182.7 318.87L184.5 322.07L180.9 322.07Z" fill="#1A6FDF"/>
<line x1="52.3" y1="324.47" x2="52.3" y2="325.17" stroke="#37AD6B" stroke-width="0.7"/>
<line x1="51.1" y1="324.47" x2="53.5" y2="324.47" stroke="#37AD6B" stroke-width="0.7"/>
<line x1="51.1" y1="325.17" x2="53.5" y2="325.17" stroke="#37AD6B" stroke-width="0.7"/>
<line x1="84.9" y1="322" x2="84.9" y2="322.7" stroke="#37AD6B" stroke-width="0.7"/>
<line x1="83.7" y1="322" x2="86.1" y2="322" stroke="#37AD6B" stroke-width="0.7"/>
<line x1="83.7" y1="322.7" x2="86.1" y2="322.7" stroke="#37AD6B" stroke-width="0.7"/>
<line x1="117.5" y1="321.12" x2="117.5" y2="321.82" stroke="#37AD6B" stroke-width="0.7"/>
<line x1="116.3" y1="321.12" x2="118.7" y2="321.12" stroke="#37AD6B" stroke-width="0.7"/>
<line x1="116.3" y1="321.82" x2="118.7" y2="321.82" stroke="#37AD6B" stroke-width="0.7"/>
<line x1="150.1" y1="322" x2="150.1" y2="322.7" stroke="#37AD6B" stroke-width="0.7"/>
<line x1="148.9" y1="322" x2="151.3" y2="322" stroke="#37AD6B" stroke-width="0.7"/>
<line x1="148.9" y1="322.7" x2="151.3" y2="322.7" stroke="#37AD6B" stroke-width="0.7"/>
<line x1="182.7" y1="323.41" x2="182.7" y2="324.11" stroke="#37AD6B" stroke-width="0.7"/>
<line x1="181.5" y1="323.41" x2="183.9" y2="323.41" stroke="#37AD6B" stroke-width="0.7"/>
<line x1="181.5" y1="324.11" x2="183.9" y2="324.11" stroke="#37AD6B" stroke-width="0.7"/>
<polyline points="52.3,324.82 84.9,322.35 117.5,321.47 150.1,322.35 182.7,323.76" fill="none" stroke="#37AD6B" stroke-width="1.25"/>
<path d="M52.3 326.72L54.1 323.52L50.5 323.52Z" fill="#37AD6B"/>
<path d="M84.9 324.25L86.7 321.05L83.1 321.05Z" fill="#37AD6B"/>
<path d="M117.5 323.37L119.3 320.17L115.7 320.17Z" fill="#37AD6B"/>
<path d="M150.1 324.25L151.9 321.05L148.3 321.05Z" fill="#37AD6B"/>
<path d="M182.7 325.66L184.5 322.46L180.9 322.46Z" fill="#37AD6B"/>
<line x1="52.3" y1="326.76" x2="52.3" y2="327.46" stroke="#B177DE" stroke-width="0.7"/>
<line x1="51.1" y1="326.76" x2="53.5" y2="326.76" stroke="#B177DE" stroke-width="0.7"/>
<line x1="51.1" y1="327.46" x2="53.5" y2="327.46" stroke="#B177DE" stroke-width="0.7"/>
<line x1="84.9" y1="324.64" x2="84.9" y2="325.35" stroke="#B177DE" stroke-width="0.7"/>
<line x1="83.7" y1="324.64" x2="86.1" y2="324.64" stroke="#B177DE" stroke-width="0.7"/>
<line x1="83.7" y1="325.35" x2="86.1" y2="325.35" stroke="#B177DE" stroke-width="0.7"/>
<line x1="117.5" y1="323.76" x2="117.5" y2="324.47" stroke="#B177DE" stroke-width="0.7"/>
<line x1="116.3" y1="323.76" x2="118.7" y2="323.76" stroke="#B177DE" stroke-width="0.7"/>
<line x1="116.3" y1="324.47" x2="118.7" y2="324.47" stroke="#B177DE" stroke-width="0.7"/>
<line x1="150.1" y1="324.64" x2="150.1" y2="325.35" stroke="#B177DE" stroke-width="0.7"/>
<line x1="148.9" y1="324.64" x2="151.3" y2="324.64" stroke="#B177DE" stroke-width="0.7"/>
<line x1="148.9" y1="325.35" x2="151.3" y2="325.35" stroke="#B177DE" stroke-width="0.7"/>
<line x1="182.7" y1="325.7" x2="182.7" y2="326.4" stroke="#B177DE" stroke-width="0.7"/>
<line x1="181.5" y1="325.7" x2="183.9" y2="325.7" stroke="#B177DE" stroke-width="0.7"/>
<line x1="181.5" y1="326.4" x2="183.9" y2="326.4" stroke="#B177DE" stroke-width="0.7"/>
<polyline points="52.3,327.11 84.9,324.99 117.5,324.11 150.1,324.99 182.7,326.05" fill="none" stroke="#B177DE" stroke-width="1.25"/>
<path d="M52.3 325.21L54 327.11L52.3 329.01L50.6 327.11Z" fill="#B177DE"/>
<path d="M84.9 323.09L86.6 324.99L84.9 326.89L83.2 324.99Z" fill="#B177DE"/>
<path d="M117.5 322.21L119.2 324.11L117.5 326.01L115.8 324.11Z" fill="#B177DE"/>
<path d="M150.1 323.09L151.8 324.99L150.1 326.89L148.4 324.99Z" fill="#B177DE"/>
<path d="M182.7 324.15L184.4 326.05L182.7 327.95L181 326.05Z" fill="#B177DE"/>
<rect x="170.2" y="186.7" width="61.3" height="42.7" fill="#fff" stroke="#c8c8c8" stroke-width="0.7"/>
<line x1="171.5" y1="192.1" x2="185.4" y2="192.1" stroke="#444444" stroke-width="1.15"/>
<rect x="176.98" y="190.63" width="2.94" height="2.94" fill="#444444"/>
<text x="186.8" y="194.24" font-size="6.7" text-anchor="start">capsanthin</text>
<line x1="171.5" y1="200.4" x2="185.4" y2="200.4" stroke="#F14040" stroke-width="1.15"/>
<circle cx="178.45" cy="200.4" r="1.66" fill="#F14040"/>
<text x="186.8" y="202.54" font-size="6.7" text-anchor="start">zeaxanthin</text>
<line x1="171.5" y1="208.6" x2="185.4" y2="208.6" stroke="#1A6FDF" stroke-width="1.15"/>
<path d="M178.45 206.79L180.16 209.84L176.74 209.84Z" fill="#1A6FDF"/>
<text x="186.8" y="210.74" font-size="6.7" text-anchor="start">lutein</text>
<line x1="171.5" y1="216.9" x2="185.4" y2="216.9" stroke="#37AD6B" stroke-width="1.15"/>
<path d="M178.45 218.71L180.16 215.66L176.74 215.66Z" fill="#37AD6B"/>
<text x="186.8" y="219.04" font-size="6.7" text-anchor="start">&#946;-cryptoxanthin</text>
<line x1="171.5" y1="225.2" x2="185.4" y2="225.2" stroke="#B177DE" stroke-width="1.15"/>
<path d="M178.45 223.39L180.06 225.2L178.45 227L176.83 225.2Z" fill="#B177DE"/>
<text x="186.8" y="227.34" font-size="6.7" text-anchor="start">&#946;-carotene</text>
<text x="310.3" y="208.7" font-size="10.7" text-anchor="start" style="stroke-width:0.3px">(D)</text>
<line x1="342.2" y1="205.4" x2="342.2" y2="337" stroke="#000" stroke-width="1.2"/>
<line x1="339.6" y1="337" x2="342.2" y2="337" stroke="#000" stroke-width="0.9"/>
<text x="338.2" y="339.37" font-size="5.65" font-weight="bold" text-anchor="end">0</text>
<line x1="339.6" y1="316.9" x2="342.2" y2="316.9" stroke="#000" stroke-width="0.9"/>
<text x="338.2" y="319.27" font-size="5.65" font-weight="bold" text-anchor="end">200</text>
<line x1="339.6" y1="296.8" x2="342.2" y2="296.8" stroke="#000" stroke-width="0.9"/>
<text x="338.2" y="299.17" font-size="5.65" font-weight="bold" text-anchor="end">400</text>
<line x1="339.6" y1="276.7" x2="342.2" y2="276.7" stroke="#000" stroke-width="0.9"/>
<text x="338.2" y="279.07" font-size="5.65" font-weight="bold" text-anchor="end">600</text>
<line x1="339.6" y1="256.6" x2="342.2" y2="256.6" stroke="#000" stroke-width="0.9"/>
<text x="338.2" y="258.97" font-size="5.65" font-weight="bold" text-anchor="end">800</text>
<line x1="339.6" y1="236.5" x2="342.2" y2="236.5" stroke="#000" stroke-width="0.9"/>
<text x="338.2" y="238.87" font-size="5.65" font-weight="bold" text-anchor="end">1000</text>
<line x1="339.6" y1="216.4" x2="342.2" y2="216.4" stroke="#000" stroke-width="0.9"/>
<text x="338.2" y="218.77" font-size="5.65" font-weight="bold" text-anchor="end">1200</text>
<line x1="340.8" y1="326.95" x2="342.2" y2="326.95" stroke="#000" stroke-width="0.8"/>
<line x1="340.8" y1="306.85" x2="342.2" y2="306.85" stroke="#000" stroke-width="0.8"/>
<line x1="340.8" y1="286.75" x2="342.2" y2="286.75" stroke="#000" stroke-width="0.8"/>
<line x1="340.8" y1="266.65" x2="342.2" y2="266.65" stroke="#000" stroke-width="0.8"/>
<line x1="340.8" y1="246.55" x2="342.2" y2="246.55" stroke="#000" stroke-width="0.8"/>
<line x1="340.8" y1="226.45" x2="342.2" y2="226.45" stroke="#000" stroke-width="0.8"/>
<line x1="340.8" y1="206.35" x2="342.2" y2="206.35" stroke="#000" stroke-width="0.8"/>
<rect x="347.5" y="257.81" width="8.8" height="79.19" fill="#fff" stroke="#000" stroke-width="0.8"/>
<line x1="351.9" y1="256.3" x2="351.9" y2="259.31" stroke="#333" stroke-width="0.7"/>
<line x1="350.9" y1="256.3" x2="352.9" y2="256.3" stroke="#333" stroke-width="0.8"/>
<line x1="350.9" y1="259.31" x2="352.9" y2="259.31" stroke="#333" stroke-width="0.8"/>
<rect x="356.3" y="300.32" width="8.8" height="36.68" fill="url(#pz)" stroke="#000" stroke-width="0.8"/>
<line x1="360.7" y1="299.11" x2="360.7" y2="301.52" stroke="#333" stroke-width="0.7"/>
<line x1="359.7" y1="299.11" x2="361.7" y2="299.11" stroke="#333" stroke-width="0.8"/>
<line x1="359.7" y1="301.52" x2="361.7" y2="301.52" stroke="#333" stroke-width="0.8"/>
<rect x="365.1" y="328.26" width="8.8" height="8.74" fill="url(#pl)" stroke="#000" stroke-width="0.8"/>
<line x1="369.5" y1="327.96" x2="369.5" y2="328.56" stroke="#333" stroke-width="0.7"/>
<line x1="368.5" y1="327.96" x2="370.5" y2="327.96" stroke="#333" stroke-width="0.8"/>
<line x1="368.5" y1="328.56" x2="370.5" y2="328.56" stroke="#333" stroke-width="0.8"/>
<rect x="373.9" y="329.16" width="8.8" height="7.84" fill="url(#pc)" stroke="#000" stroke-width="0.8"/>
<line x1="378.3" y1="328.86" x2="378.3" y2="329.46" stroke="#333" stroke-width="0.7"/>
<line x1="377.3" y1="328.86" x2="379.3" y2="328.86" stroke="#333" stroke-width="0.8"/>
<line x1="377.3" y1="329.46" x2="379.3" y2="329.46" stroke="#333" stroke-width="0.8"/>
<rect x="382.7" y="331.98" width="8.8" height="5.02" fill="url(#pb)" stroke="#000" stroke-width="0.8"/>
<line x1="387.1" y1="331.67" x2="387.1" y2="332.28" stroke="#333" stroke-width="0.7"/>
<line x1="386.1" y1="331.67" x2="388.1" y2="331.67" stroke="#333" stroke-width="0.8"/>
<line x1="386.1" y1="332.28" x2="388.1" y2="332.28" stroke="#333" stroke-width="0.8"/>
<rect x="401.5" y="221.43" width="8.8" height="115.57" fill="#fff" stroke="#000" stroke-width="0.8"/>
<line x1="405.9" y1="218.91" x2="405.9" y2="223.94" stroke="#333" stroke-width="0.7"/>
<line x1="404.9" y1="218.91" x2="406.9" y2="218.91" stroke="#333" stroke-width="0.8"/>
<line x1="404.9" y1="223.94" x2="406.9" y2="223.94" stroke="#333" stroke-width="0.8"/>
<rect x="410.3" y="293.78" width="8.8" height="43.22" fill="url(#pz)" stroke="#000" stroke-width="0.8"/>
<line x1="414.7" y1="292.78" x2="414.7" y2="294.79" stroke="#333" stroke-width="0.7"/>
<line x1="413.7" y1="292.78" x2="415.7" y2="292.78" stroke="#333" stroke-width="0.8"/>
<line x1="413.7" y1="294.79" x2="415.7" y2="294.79" stroke="#333" stroke-width="0.8"/>
<rect x="419.1" y="328.46" width="8.8" height="8.54" fill="url(#pl)" stroke="#000" stroke-width="0.8"/>
<line x1="423.5" y1="328.16" x2="423.5" y2="328.76" stroke="#333" stroke-width="0.7"/>
<line x1="422.5" y1="328.16" x2="424.5" y2="328.16" stroke="#333" stroke-width="0.8"/>
<line x1="422.5" y1="328.76" x2="424.5" y2="328.76" stroke="#333" stroke-width="0.8"/>
<rect x="427.9" y="328.16" width="8.8" height="8.84" fill="url(#pc)" stroke="#000" stroke-width="0.8"/>
<line x1="432.3" y1="327.85" x2="432.3" y2="328.46" stroke="#333" stroke-width="0.7"/>
<line x1="431.3" y1="327.85" x2="433.3" y2="327.85" stroke="#333" stroke-width="0.8"/>
<line x1="431.3" y1="328.46" x2="433.3" y2="328.46" stroke="#333" stroke-width="0.8"/>
<rect x="436.7" y="331.17" width="8.8" height="5.83" fill="url(#pb)" stroke="#000" stroke-width="0.8"/>
<line x1="441.1" y1="330.87" x2="441.1" y2="331.47" stroke="#333" stroke-width="0.7"/>
<line x1="440.1" y1="330.87" x2="442.1" y2="330.87" stroke="#333" stroke-width="0.8"/>
<line x1="440.1" y1="331.47" x2="442.1" y2="331.47" stroke="#333" stroke-width="0.8"/>
<rect x="455.5" y="256.4" width="8.8" height="80.6" fill="#fff" stroke="#000" stroke-width="0.8"/>
<line x1="459.9" y1="254.39" x2="459.9" y2="258.41" stroke="#333" stroke-width="0.7"/>
<line x1="458.9" y1="254.39" x2="460.9" y2="254.39" stroke="#333" stroke-width="0.8"/>
<line x1="458.9" y1="258.41" x2="460.9" y2="258.41" stroke="#333" stroke-width="0.8"/>
<rect x="464.3" y="297.81" width="8.8" height="39.19" fill="url(#pz)" stroke="#000" stroke-width="0.8"/>
<line x1="468.7" y1="297.3" x2="468.7" y2="298.31" stroke="#333" stroke-width="0.7"/>
<line x1="467.7" y1="297.3" x2="469.7" y2="297.3" stroke="#333" stroke-width="0.8"/>
<line x1="467.7" y1="298.31" x2="469.7" y2="298.31" stroke="#333" stroke-width="0.8"/>
<rect x="473.1" y="316.1" width="8.8" height="20.9" fill="url(#pl)" stroke="#000" stroke-width="0.8"/>
<line x1="477.5" y1="315.79" x2="477.5" y2="316.4" stroke="#333" stroke-width="0.7"/>
<line x1="476.5" y1="315.79" x2="478.5" y2="315.79" stroke="#333" stroke-width="0.8"/>
<line x1="476.5" y1="316.4" x2="478.5" y2="316.4" stroke="#333" stroke-width="0.8"/>
<rect x="481.9" y="328.96" width="8.8" height="8.04" fill="url(#pc)" stroke="#000" stroke-width="0.8"/>
<line x1="486.3" y1="328.66" x2="486.3" y2="329.26" stroke="#333" stroke-width="0.7"/>
<line x1="485.3" y1="328.66" x2="487.3" y2="328.66" stroke="#333" stroke-width="0.8"/>
<line x1="485.3" y1="329.26" x2="487.3" y2="329.26" stroke="#333" stroke-width="0.8"/>
<rect x="490.7" y="332.28" width="8.8" height="4.72" fill="url(#pb)" stroke="#000" stroke-width="0.8"/>
<line x1="495.1" y1="331.98" x2="495.1" y2="332.58" stroke="#333" stroke-width="0.7"/>
<line x1="494.1" y1="331.98" x2="496.1" y2="331.98" stroke="#333" stroke-width="0.8"/>
<line x1="494.1" y1="332.58" x2="496.1" y2="332.58" stroke="#333" stroke-width="0.8"/>
<line x1="341.6" y1="337" x2="507" y2="337" stroke="#000" stroke-width="1.2"/>
<line x1="369.5" y1="337" x2="369.5" y2="339.4" stroke="#000" stroke-width="0.9"/>
<text x="369.5" y="345.9" font-size="5.4" font-weight="bold" text-anchor="middle">10</text>
<line x1="423.5" y1="337" x2="423.5" y2="339.4" stroke="#000" stroke-width="0.9"/>
<text x="423.5" y="345.9" font-size="5.4" font-weight="bold" text-anchor="middle">20</text>
<line x1="477.5" y1="337" x2="477.5" y2="339.4" stroke="#000" stroke-width="0.9"/>
<text x="477.5" y="345.9" font-size="5.4" font-weight="bold" text-anchor="middle">40</text>
<line x1="396.5" y1="337" x2="396.5" y2="338.3" stroke="#000" stroke-width="0.8"/>
<line x1="450.5" y1="337" x2="450.5" y2="338.3" stroke="#000" stroke-width="0.8"/>
<line x1="504.5" y1="337" x2="504.5" y2="338.3" stroke="#000" stroke-width="0.8"/>
<line x1="342.5" y1="337" x2="342.5" y2="338.3" stroke="#000" stroke-width="0.8"/>
<text x="423.9" y="357.2" font-size="6.8" font-weight="bold" text-anchor="middle">KOH concentration (%)</text>
<text transform="translate(323.9,271.8) rotate(-90)" font-size="6.7" font-weight="bold" text-anchor="middle">concentration (&#956;g&#183;g<tspan dy="-2.0" font-size="4.36">-1</tspan><tspan dy="2.0">)</tspan></text>
<rect x="446.7" y="191.3" width="60.7" height="42.2" fill="#fff" stroke="#c8c8c8" stroke-width="0.7"/>
<rect x="447.9" y="192.4" width="12.5" height="6.4" fill="#fff" stroke="#222" stroke-width="0.75"/>
<text x="462.7" y="197.79" font-size="6.85" text-anchor="start">capsanthin</text>
<rect x="447.9" y="200.8" width="12.5" height="6.4" fill="url(#pz)" stroke="#222" stroke-width="0.75"/>
<text x="462.7" y="206.19" font-size="6.85" text-anchor="start">zeaxanthin</text>
<rect x="447.9" y="209.3" width="12.5" height="6.4" fill="url(#pl)" stroke="#222" stroke-width="0.75"/>
<text x="462.7" y="214.69" font-size="6.85" text-anchor="start">lutein</text>
<rect x="447.9" y="217.6" width="12.5" height="6.4" fill="url(#pc)" stroke="#222" stroke-width="0.75"/>
<text x="462.7" y="222.99" font-size="6.85" text-anchor="start">&#946;-cryptoxanthin</text>
<rect x="447.9" y="226" width="12.5" height="6.4" fill="url(#pb)" stroke="#222" stroke-width="0.75"/>
<text x="462.7" y="231.39" font-size="6.85" text-anchor="start">&#946;-carotene</text>
<text x="5.9" y="391.4" font-size="10" font-weight="bold" text-anchor="start">(E)</text>
<line x1="36.6" y1="388.7" x2="36.6" y2="520.1" stroke="#000" stroke-width="1.2"/>
<line x1="34" y1="520.1" x2="36.6" y2="520.1" stroke="#000" stroke-width="0.9"/>
<text x="32.6" y="522.47" font-size="5.65" font-weight="bold" text-anchor="end">0</text>
<line x1="34" y1="501.3" x2="36.6" y2="501.3" stroke="#000" stroke-width="0.9"/>
<text x="32.6" y="503.67" font-size="5.65" font-weight="bold" text-anchor="end">200</text>
<line x1="34" y1="482.5" x2="36.6" y2="482.5" stroke="#000" stroke-width="0.9"/>
<text x="32.6" y="484.87" font-size="5.65" font-weight="bold" text-anchor="end">400</text>
<line x1="34" y1="463.7" x2="36.6" y2="463.7" stroke="#000" stroke-width="0.9"/>
<text x="32.6" y="466.07" font-size="5.65" font-weight="bold" text-anchor="end">600</text>
<line x1="34" y1="444.9" x2="36.6" y2="444.9" stroke="#000" stroke-width="0.9"/>
<text x="32.6" y="447.27" font-size="5.65" font-weight="bold" text-anchor="end">800</text>
<line x1="34" y1="426.1" x2="36.6" y2="426.1" stroke="#000" stroke-width="0.9"/>
<text x="32.6" y="428.47" font-size="5.65" font-weight="bold" text-anchor="end">1000</text>
<line x1="34" y1="407.3" x2="36.6" y2="407.3" stroke="#000" stroke-width="0.9"/>
<text x="32.6" y="409.67" font-size="5.65" font-weight="bold" text-anchor="end">1200</text>
<line x1="34" y1="388.5" x2="36.6" y2="388.5" stroke="#000" stroke-width="0.9"/>
<text x="32.6" y="390.87" font-size="5.65" font-weight="bold" text-anchor="end">1400</text>
<line x1="35.2" y1="510.7" x2="36.6" y2="510.7" stroke="#000" stroke-width="0.8"/>
<line x1="35.2" y1="491.9" x2="36.6" y2="491.9" stroke="#000" stroke-width="0.8"/>
<line x1="35.2" y1="473.1" x2="36.6" y2="473.1" stroke="#000" stroke-width="0.8"/>
<line x1="35.2" y1="454.3" x2="36.6" y2="454.3" stroke="#000" stroke-width="0.8"/>
<line x1="35.2" y1="435.5" x2="36.6" y2="435.5" stroke="#000" stroke-width="0.8"/>
<line x1="35.2" y1="416.7" x2="36.6" y2="416.7" stroke="#000" stroke-width="0.8"/>
<line x1="35.2" y1="397.9" x2="36.6" y2="397.9" stroke="#000" stroke-width="0.8"/>
<rect x="42.3" y="408.24" width="8.7" height="111.86" fill="#fff" stroke="#000" stroke-width="0.8"/>
<line x1="46.65" y1="405.7" x2="46.65" y2="410.78" stroke="#333" stroke-width="0.7"/>
<line x1="45.65" y1="405.7" x2="47.65" y2="405.7" stroke="#333" stroke-width="0.8"/>
<line x1="45.65" y1="410.78" x2="47.65" y2="410.78" stroke="#333" stroke-width="0.8"/>
<rect x="51" y="475.36" width="8.7" height="44.74" fill="url(#pz)" stroke="#000" stroke-width="0.8"/>
<line x1="55.35" y1="474.79" x2="55.35" y2="475.92" stroke="#333" stroke-width="0.7"/>
<line x1="54.35" y1="474.79" x2="56.35" y2="474.79" stroke="#333" stroke-width="0.8"/>
<line x1="54.35" y1="475.92" x2="56.35" y2="475.92" stroke="#333" stroke-width="0.8"/>
<rect x="59.7" y="509.2" width="8.7" height="10.9" fill="url(#pl)" stroke="#000" stroke-width="0.8"/>
<rect x="68.4" y="511.73" width="8.7" height="8.37" fill="url(#pc)" stroke="#000" stroke-width="0.8"/>
<rect x="77.1" y="514.37" width="8.7" height="5.73" fill="url(#pb)" stroke="#000" stroke-width="0.8"/>
<rect x="96.1" y="435.41" width="8.7" height="84.69" fill="#fff" stroke="#000" stroke-width="0.8"/>
<line x1="100.45" y1="434.65" x2="100.45" y2="436.16" stroke="#333" stroke-width="0.7"/>
<line x1="99.45" y1="434.65" x2="101.45" y2="434.65" stroke="#333" stroke-width="0.8"/>
<line x1="99.45" y1="436.16" x2="101.45" y2="436.16" stroke="#333" stroke-width="0.8"/>
<rect x="104.8" y="486.07" width="8.7" height="34.03" fill="url(#pz)" stroke="#000" stroke-width="0.8"/>
<rect x="113.5" y="510.98" width="8.7" height="9.12" fill="url(#pl)" stroke="#000" stroke-width="0.8"/>
<rect x="122.2" y="513.8" width="8.7" height="6.3" fill="url(#pc)" stroke="#000" stroke-width="0.8"/>
<rect x="130.9" y="515.21" width="8.7" height="4.89" fill="url(#pb)" stroke="#000" stroke-width="0.8"/>
<rect x="149.9" y="446.69" width="8.7" height="73.41" fill="#fff" stroke="#000" stroke-width="0.8"/>
<line x1="154.25" y1="445.56" x2="154.25" y2="447.81" stroke="#333" stroke-width="0.7"/>
<line x1="153.25" y1="445.56" x2="155.25" y2="445.56" stroke="#333" stroke-width="0.8"/>
<line x1="153.25" y1="447.81" x2="155.25" y2="447.81" stroke="#333" stroke-width="0.8"/>
<rect x="158.6" y="490.21" width="8.7" height="29.89" fill="url(#pz)" stroke="#000" stroke-width="0.8"/>
<rect x="167.3" y="512.11" width="8.7" height="7.99" fill="url(#pl)" stroke="#000" stroke-width="0.8"/>
<rect x="176" y="514.46" width="8.7" height="5.64" fill="url(#pc)" stroke="#000" stroke-width="0.8"/>
<rect x="184.7" y="516.06" width="8.7" height="4.04" fill="url(#pb)" stroke="#000" stroke-width="0.8"/>
<line x1="36" y1="520.1" x2="199.9" y2="520.1" stroke="#000" stroke-width="1.2"/>
<line x1="64.05" y1="520.1" x2="64.05" y2="522.5" stroke="#000" stroke-width="0.9"/>
<text x="64.05" y="528.7" font-size="5.4" font-weight="bold" text-anchor="middle">25</text>
<line x1="117.85" y1="520.1" x2="117.85" y2="522.5" stroke="#000" stroke-width="0.9"/>
<text x="117.85" y="528.7" font-size="5.4" font-weight="bold" text-anchor="middle">50</text>
<line x1="171.65" y1="520.1" x2="171.65" y2="522.5" stroke="#000" stroke-width="0.9"/>
<text x="171.65" y="528.7" font-size="5.4" font-weight="bold" text-anchor="middle">80</text>
<line x1="90.95" y1="520.1" x2="90.95" y2="521.4" stroke="#000" stroke-width="0.8"/>
<line x1="144.75" y1="520.1" x2="144.75" y2="521.4" stroke="#000" stroke-width="0.8"/>
<line x1="198.55" y1="520.1" x2="198.55" y2="521.4" stroke="#000" stroke-width="0.8"/>
<line x1="37.15" y1="520.1" x2="37.15" y2="521.4" stroke="#000" stroke-width="0.8"/>
<text x="117.85" y="540.3" font-size="6.8" font-weight="bold" text-anchor="middle">saponification temperature (&#176;C)</text>
<text transform="translate(18.9,455) rotate(-90)" font-size="6.7" font-weight="bold" text-anchor="middle">concentration (&#956;g&#183;g<tspan dy="-2.0" font-size="4.36">-1</tspan><tspan dy="2.0">)</tspan></text>
<rect x="131" y="374.5" width="60.9" height="42.2" fill="#fff" stroke="#c8c8c8" stroke-width="0.7"/>
<rect x="132.2" y="376.1" width="13.1" height="6.4" fill="#fff" stroke="#222" stroke-width="0.75"/>
<text x="147.6" y="381.49" font-size="6.85" text-anchor="start">capsanthin</text>
<rect x="132.2" y="384.5" width="13.1" height="6.4" fill="url(#pz)" stroke="#222" stroke-width="0.75"/>
<text x="147.6" y="389.89" font-size="6.85" text-anchor="start">zeaxanthin</text>
<rect x="132.2" y="392.8" width="13.1" height="6.4" fill="url(#pl)" stroke="#222" stroke-width="0.75"/>
<text x="147.6" y="398.19" font-size="6.85" text-anchor="start">lutein</text>
<rect x="132.2" y="401.2" width="13.1" height="6.4" fill="url(#pc)" stroke="#222" stroke-width="0.75"/>
<text x="147.6" y="406.59" font-size="6.85" text-anchor="start">&#946;-cryptoxanthin</text>
<rect x="132.2" y="409.4" width="13.1" height="6.4" fill="url(#pb)" stroke="#222" stroke-width="0.75"/>
<text x="147.6" y="414.79" font-size="6.85" text-anchor="start">&#946;-carotene</text>
<text x="311.8" y="391.2" font-size="9.9" font-weight="bold" text-anchor="start">(F)</text>
<line x1="342.2" y1="388.7" x2="342.2" y2="519.9" stroke="#000" stroke-width="1.2"/>
<line x1="339.6" y1="519.9" x2="342.2" y2="519.9" stroke="#000" stroke-width="0.9"/>
<text x="338.2" y="522.27" font-size="5.65" font-weight="bold" text-anchor="end">0</text>
<line x1="339.6" y1="501.1" x2="342.2" y2="501.1" stroke="#000" stroke-width="0.9"/>
<text x="338.2" y="503.47" font-size="5.65" font-weight="bold" text-anchor="end">200</text>
<line x1="339.6" y1="482.3" x2="342.2" y2="482.3" stroke="#000" stroke-width="0.9"/>
<text x="338.2" y="484.67" font-size="5.65" font-weight="bold" text-anchor="end">400</text>
<line x1="339.6" y1="463.5" x2="342.2" y2="463.5" stroke="#000" stroke-width="0.9"/>
<text x="338.2" y="465.87" font-size="5.65" font-weight="bold" text-anchor="end">600</text>
<line x1="339.6" y1="444.7" x2="342.2" y2="444.7" stroke="#000" stroke-width="0.9"/>
<text x="338.2" y="447.07" font-size="5.65" font-weight="bold" text-anchor="end">800</text>
<line x1="339.6" y1="425.9" x2="342.2" y2="425.9" stroke="#000" stroke-width="0.9"/>
<text x="338.2" y="428.27" font-size="5.65" font-weight="bold" text-anchor="end">1000</text>
<line x1="339.6" y1="407.1" x2="342.2" y2="407.1" stroke="#000" stroke-width="0.9"/>
<text x="338.2" y="409.47" font-size="5.65" font-weight="bold" text-anchor="end">1200</text>
<line x1="339.6" y1="388.3" x2="342.2" y2="388.3" stroke="#000" stroke-width="0.9"/>
<text x="338.2" y="390.67" font-size="5.65" font-weight="bold" text-anchor="end">1400</text>
<line x1="340.8" y1="510.5" x2="342.2" y2="510.5" stroke="#000" stroke-width="0.8"/>
<line x1="340.8" y1="491.7" x2="342.2" y2="491.7" stroke="#000" stroke-width="0.8"/>
<line x1="340.8" y1="472.9" x2="342.2" y2="472.9" stroke="#000" stroke-width="0.8"/>
<line x1="340.8" y1="454.1" x2="342.2" y2="454.1" stroke="#000" stroke-width="0.8"/>
<line x1="340.8" y1="435.3" x2="342.2" y2="435.3" stroke="#000" stroke-width="0.8"/>
<line x1="340.8" y1="416.5" x2="342.2" y2="416.5" stroke="#000" stroke-width="0.8"/>
<line x1="340.8" y1="397.7" x2="342.2" y2="397.7" stroke="#000" stroke-width="0.8"/>
<rect x="347.5" y="441.88" width="8.8" height="78.02" fill="#fff" stroke="#000" stroke-width="0.8"/>
<line x1="351.9" y1="439.53" x2="351.9" y2="444.23" stroke="#333" stroke-width="0.7"/>
<line x1="350.9" y1="439.53" x2="352.9" y2="439.53" stroke="#333" stroke-width="0.8"/>
<line x1="350.9" y1="444.23" x2="352.9" y2="444.23" stroke="#333" stroke-width="0.8"/>
<rect x="356.3" y="483.24" width="8.8" height="36.66" fill="url(#pz)" stroke="#000" stroke-width="0.8"/>
<line x1="360.7" y1="482.49" x2="360.7" y2="483.99" stroke="#333" stroke-width="0.7"/>
<line x1="359.7" y1="482.49" x2="361.7" y2="482.49" stroke="#333" stroke-width="0.8"/>
<line x1="359.7" y1="483.99" x2="361.7" y2="483.99" stroke="#333" stroke-width="0.8"/>
<rect x="365.1" y="513.51" width="8.8" height="6.39" fill="url(#pl)" stroke="#000" stroke-width="0.8"/>
<rect x="373.9" y="514.35" width="8.8" height="5.55" fill="url(#pc)" stroke="#000" stroke-width="0.8"/>
<rect x="382.7" y="515.67" width="8.8" height="4.23" fill="url(#pb)" stroke="#000" stroke-width="0.8"/>
<rect x="401.5" y="404.37" width="8.8" height="115.53" fill="#fff" stroke="#000" stroke-width="0.8"/>
<line x1="405.9" y1="400.99" x2="405.9" y2="407.76" stroke="#333" stroke-width="0.7"/>
<line x1="404.9" y1="400.99" x2="406.9" y2="400.99" stroke="#333" stroke-width="0.8"/>
<line x1="404.9" y1="407.76" x2="406.9" y2="407.76" stroke="#333" stroke-width="0.8"/>
<rect x="410.3" y="465" width="8.8" height="54.9" fill="url(#pz)" stroke="#000" stroke-width="0.8"/>
<line x1="414.7" y1="464.06" x2="414.7" y2="465.94" stroke="#333" stroke-width="0.7"/>
<line x1="413.7" y1="464.06" x2="415.7" y2="464.06" stroke="#333" stroke-width="0.8"/>
<line x1="413.7" y1="465.94" x2="415.7" y2="465.94" stroke="#333" stroke-width="0.8"/>
<rect x="419.1" y="510.03" width="8.8" height="9.87" fill="url(#pl)" stroke="#000" stroke-width="0.8"/>
<rect x="427.9" y="512.1" width="8.8" height="7.8" fill="url(#pc)" stroke="#000" stroke-width="0.8"/>
<rect x="436.7" y="513.79" width="8.8" height="6.11" fill="url(#pb)" stroke="#000" stroke-width="0.8"/>
<rect x="455.5" y="416.88" width="8.8" height="103.02" fill="#fff" stroke="#000" stroke-width="0.8"/>
<line x1="459.9" y1="413.96" x2="459.9" y2="419.79" stroke="#333" stroke-width="0.7"/>
<line x1="458.9" y1="413.96" x2="460.9" y2="413.96" stroke="#333" stroke-width="0.8"/>
<line x1="458.9" y1="419.79" x2="460.9" y2="419.79" stroke="#333" stroke-width="0.8"/>
<rect x="464.3" y="471.02" width="8.8" height="48.88" fill="url(#pz)" stroke="#000" stroke-width="0.8"/>
<line x1="468.7" y1="470.08" x2="468.7" y2="471.96" stroke="#333" stroke-width="0.7"/>
<line x1="467.7" y1="470.08" x2="469.7" y2="470.08" stroke="#333" stroke-width="0.8"/>
<line x1="467.7" y1="471.96" x2="469.7" y2="471.96" stroke="#333" stroke-width="0.8"/>
<rect x="473.1" y="510.97" width="8.8" height="8.93" fill="url(#pl)" stroke="#000" stroke-width="0.8"/>
<rect x="481.9" y="512.66" width="8.8" height="7.24" fill="url(#pc)" stroke="#000" stroke-width="0.8"/>
<rect x="490.7" y="514.54" width="8.8" height="5.36" fill="url(#pb)" stroke="#000" stroke-width="0.8"/>
<line x1="341.6" y1="519.9" x2="505" y2="519.9" stroke="#000" stroke-width="1.2"/>
<line x1="369.5" y1="519.9" x2="369.5" y2="522.3" stroke="#000" stroke-width="0.9"/>
<text x="369.5" y="528.5" font-size="5.4" font-weight="bold" text-anchor="middle">20</text>
<line x1="423.5" y1="519.9" x2="423.5" y2="522.3" stroke="#000" stroke-width="0.9"/>
<text x="423.5" y="528.5" font-size="5.4" font-weight="bold" text-anchor="middle">60</text>
<line x1="477.5" y1="519.9" x2="477.5" y2="522.3" stroke="#000" stroke-width="0.9"/>
<text x="477.5" y="528.5" font-size="5.4" font-weight="bold" text-anchor="middle">90</text>
<line x1="396.5" y1="519.9" x2="396.5" y2="521.2" stroke="#000" stroke-width="0.8"/>
<line x1="450.5" y1="519.9" x2="450.5" y2="521.2" stroke="#000" stroke-width="0.8"/>
<line x1="504.5" y1="519.9" x2="504.5" y2="521.2" stroke="#000" stroke-width="0.8"/>
<line x1="342.5" y1="519.9" x2="342.5" y2="521.2" stroke="#000" stroke-width="0.8"/>
<text x="423.7" y="540.3" font-size="6.8" font-weight="bold" text-anchor="middle">saponification time (min)</text>
<text transform="translate(323.9,455) rotate(-90)" font-size="6.7" font-weight="bold" text-anchor="middle">concentration (&#956;g&#183;g<tspan dy="-2.0" font-size="4.36">-1</tspan><tspan dy="2.0">)</tspan></text>
<rect x="445.2" y="369.5" width="61.6" height="42.8" fill="#fff" stroke="#c8c8c8" stroke-width="0.7"/>
<rect x="446.7" y="371.1" width="13.3" height="6.4" fill="#fff" stroke="#222" stroke-width="0.75"/>
<text x="461.7" y="376.49" font-size="6.85" text-anchor="start">capsanthin</text>
<rect x="446.7" y="379.7" width="13.3" height="6.4" fill="url(#pz)" stroke="#222" stroke-width="0.75"/>
<text x="461.7" y="385.09" font-size="6.85" text-anchor="start">zeaxanthin</text>
<rect x="446.7" y="388.2" width="13.3" height="6.4" fill="url(#pl)" stroke="#222" stroke-width="0.75"/>
<text x="461.7" y="393.59" font-size="6.85" text-anchor="start">lutein</text>
<rect x="446.7" y="396.5" width="13.3" height="6.4" fill="url(#pc)" stroke="#222" stroke-width="0.75"/>
<text x="461.7" y="401.89" font-size="6.85" text-anchor="start">&#946;-cryptoxanthin</text>
<rect x="446.7" y="404.8" width="13.3" height="6.4" fill="url(#pb)" stroke="#222" stroke-width="0.75"/>
<text x="461.7" y="410.19" font-size="6.85" text-anchor="start">&#946;-carotene</text>
</svg>
</body></html>
